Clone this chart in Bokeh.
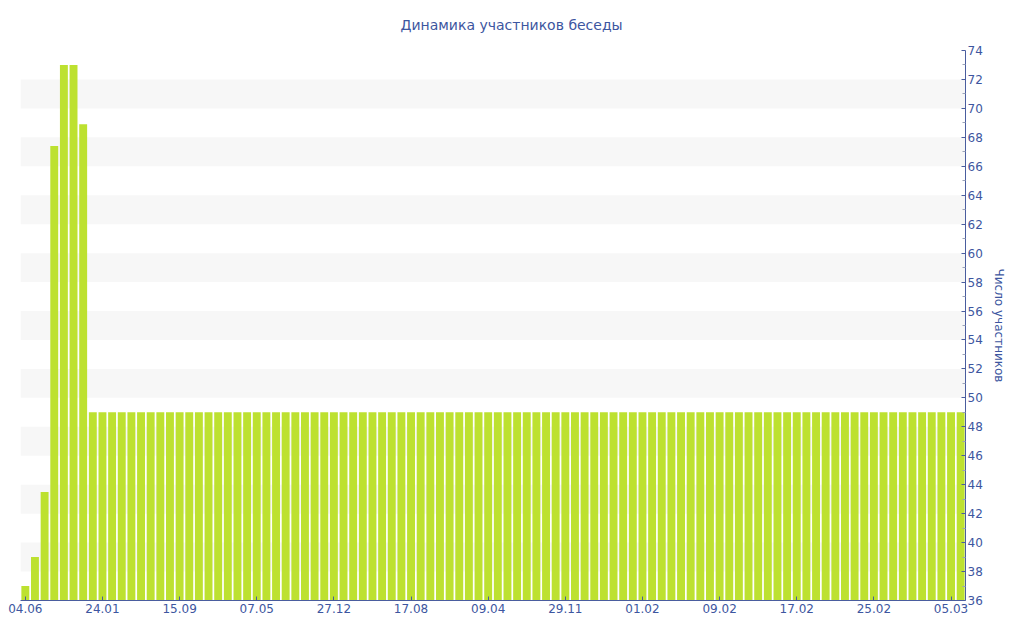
from bokeh.plotting import figure
from bokeh.models import ColumnDataSource, FixedTicker, Range1d
from bokeh.embed import file_html
from bokeh.resources import INLINE

# ---- data ----
tick_labels = ["04.06", "24.01", "15.09", "07.05", "27.12", "17.08", "09.04",
               "29.11", "01.02", "09.02", "17.02", "25.02", "05.03"]
head_values = [37, 39, 43.5, 67.4, 73, 73, 68.9]
tail_values = [49] * 91
values = head_values + tail_values
positions = list(range(len(values)))
y_ticks = list(range(36, 75, 2))
y_minor = list(range(37, 74, 2))
x_ticks = list(range(0, len(values), 8))

TEXT = "#3d56a0"
AXIS = "#4a5d9e"
BAR = "#bde130"
FONT = "DejaVu Sans"

src = ColumnDataSource(dict(x=positions, v=values))

p = figure(width=1008, height=624, output_backend="svg", toolbar_location=None,
           x_range=Range1d(-0.5, len(values) - 0.5), y_range=Range1d(36, 74),
           y_axis_location="right", title="Динамика участников беседы",
           min_border_left=20, min_border_right=0, min_border_top=50,
           min_border_bottom=24)

p.vbar(x="x", top="v", bottom=36, width=0.82, source=src,
       fill_color=BAR, line_color=None)

p.title.align = "left"
p.title.offset = 380
p.title.vertical_align = "top"
p.title.standoff = 32
p.title.text_color = TEXT
p.title.text_font = FONT
p.title.text_font_size = "14px"
p.title.text_font_style = "normal"

p.outline_line_color = None
p.xgrid.grid_line_color = None
p.ygrid.grid_line_color = None
p.ygrid.ticker = FixedTicker(ticks=y_ticks)
p.ygrid.band_fill_color = "#f7f7f7"
p.ygrid.band_fill_alpha = 1.0

ya = p.yaxis[0]
ya.ticker = FixedTicker(ticks=y_ticks, minor_ticks=y_minor)
ya.axis_line_color = AXIS
ya.major_tick_line_color = AXIS
ya.minor_tick_line_color = "#9aa3b8"
ya.major_tick_in = 4
ya.major_tick_out = 0
ya.minor_tick_in = 3
ya.minor_tick_out = 0
ya.major_label_text_color = TEXT
ya.major_label_text_font = FONT
ya.major_label_text_font_size = "12px"
ya.major_label_standoff = 2
ya.axis_label = "Число участников"
ya.axis_label_text_color = TEXT
ya.axis_label_text_font = FONT
ya.axis_label_text_font_size = "12px"
ya.axis_label_text_font_style = "normal"
ya.axis_label_standoff = 6

xa = p.xaxis[0]
xa.ticker = FixedTicker(ticks=x_ticks)
xa.major_label_overrides = {t: lab for t, lab in zip(x_ticks, tick_labels)}
xa.axis_line_color = AXIS
xa.major_tick_line_color = AXIS
xa.minor_tick_line_color = None
xa.major_tick_in = 4
xa.major_tick_out = 0
xa.major_label_text_color = TEXT
xa.major_label_text_font = FONT
xa.major_label_text_font_size = "12px"
xa.major_label_standoff = 3

open("out.html", "w").write(file_html(p, INLINE))
